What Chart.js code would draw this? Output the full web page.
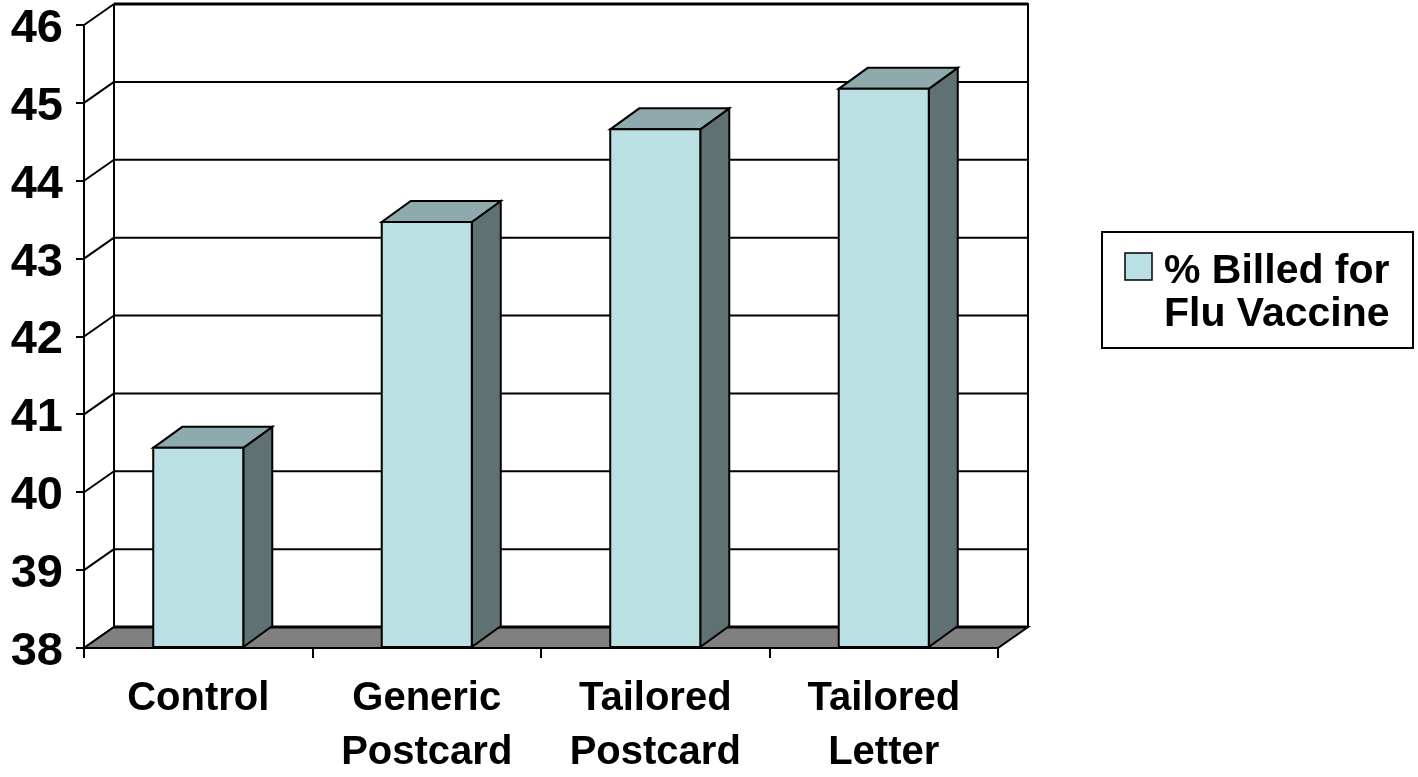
<!DOCTYPE html>
<html>
<head>
<meta charset="utf-8">
<script src="https://cdn.jsdelivr.net/npm/chart.js@4/dist/chart.umd.min.js"></script>
<style>
html,body{margin:0;padding:0;background:#fff;}
#wrap{width:1418px;height:777px;position:relative;}
</style>
</head>
<body>
<div id="wrap"><canvas id="c" width="1418" height="777"></canvas></div>
<script>
const categories = [["Control"], ["Generic", "Postcard"], ["Tailored", "Postcard"], ["Tailored", "Letter"]];
const seriesName = ["% Billed for", "Flu Vaccine"];
const billedValues = [40.57, 43.47, 44.66, 45.18];
const yTicks = [38, 39, 40, 41, 42, 43, 44, 45, 46];

const FONT = "'Liberation Sans', Arial, sans-serif";
const DX = 30, DY = -21;
const FRONT = '#BBE0E3', TOP = '#8FAAAD', SIDE = '#5F7173', FLOOR = '#808080';

function line(ctx, x1, y1, x2, y2, w) {
  ctx.beginPath(); ctx.lineWidth = w; ctx.moveTo(x1, y1); ctx.lineTo(x2, y2); ctx.stroke();
}
function poly(ctx, pts, fill, w) {
  ctx.beginPath();
  ctx.moveTo(pts[0][0], pts[0][1]);
  for (let i = 1; i < pts.length; i++) ctx.lineTo(pts[i][0], pts[i][1]);
  ctx.closePath();
  ctx.fillStyle = fill; ctx.fill();
  ctx.lineWidth = w; ctx.strokeStyle = '#000'; ctx.lineJoin = 'miter'; ctx.stroke();
}

const walls = {
  id: 'walls',
  beforeDatasetsDraw(chart) {
    const ctx = chart.ctx, a = chart.chartArea, ys = chart.scales.y;
    ctx.save();
    ctx.strokeStyle = '#000';
    const L = a.left, R = a.right;
    yTicks.forEach(v => {
      const y = ys.getPixelForValue(v);
      line(ctx, L + DX, y + DY, R + DX, y + DY, v === yTicks[yTicks.length - 1] ? 3 : 2);
      line(ctx, L, y, L + DX, y + DY, 2);
    });
    line(ctx, L + DX, a.top + DY, L + DX, a.bottom + DY, 2);
    line(ctx, R + DX, a.top + DY - 1, R + DX, a.bottom + DY, 2);
    // floor
    poly(ctx, [[L, a.bottom], [R, a.bottom], [R + DX, a.bottom + DY], [L + DX, a.bottom + DY]], FLOOR, 2);
    line(ctx, L + DX, a.bottom + DY, R + DX, a.bottom + DY, 3);
    line(ctx, L, a.top, L, a.bottom + 10, 2);
    ctx.restore();
  },
  afterDatasetsDraw(chart) {
    const ctx = chart.ctx;
    ctx.save();
    chart.getDatasetMeta(0).data.forEach(bar => {
      const p = bar.getProps(['x', 'y', 'width', 'base'], true);
      const l = p.x - p.width / 2, r = p.x + p.width / 2, t = p.y, b = p.base;
      poly(ctx, [[r, t], [r + DX - 1, t + DY], [r + DX - 1, b + DY], [r, b]], SIDE, 2);
      poly(ctx, [[l, t], [r, t], [r + DX - 1, t + DY], [l + DX - 1, t + DY]], TOP, 2);
      poly(ctx, [[l, t], [r, t], [r, b], [l, b]], FRONT, 2);
    });
    ctx.restore();
  },
  afterDraw(chart) {
    const ctx = chart.ctx;
    ctx.save();
    // legend
    ctx.lineWidth = 2; ctx.strokeStyle = '#000';
    ctx.strokeRect(1102, 232, 311, 116);
    ctx.fillStyle = FRONT;
    ctx.fillRect(1125, 253, 27, 27);
    ctx.lineWidth = 1.5;
    ctx.strokeRect(1125, 253, 27, 27);
    ctx.fillStyle = '#000';
    ctx.font = "bold 41px " + FONT;
    ctx.textAlign = 'left'; ctx.textBaseline = 'alphabetic';
    ctx.fillText(seriesName[0], 1164, 283);
    ctx.fillText(seriesName[1], 1164, 326);
    ctx.restore();
  }
};

new Chart(document.getElementById('c'), {
  type: 'bar',
  data: {
    labels: categories,
    datasets: [{
      label: seriesName.join(' '),
      data: billedValues,
      base: yTicks[0],
      backgroundColor: FRONT,
      borderColor: '#000',
      borderWidth: 0,
      categoryPercentage: 1,
      barPercentage: 0.394
    }]
  },
  options: {
    responsive: false,
    animation: false,
    layout: { padding: { top: 25, right: 420, left: 0, bottom: 0 } },
    plugins: { legend: { display: false }, tooltip: { enabled: false } },
    scales: {
      x: {
        offset: true,
        grid: { display: true, drawOnChartArea: false, offset: true, color: '#000', lineWidth: 2, tickLength: 10 },
        border: { display: false },
        ticks: { color: '#000', padding: 14, maxRotation: 0, autoSkip: false,
                 font: { family: FONT, size: 40, weight: 'bold', lineHeight: 1.35 } },
        afterFit(scale) { scale.height = 777 - 648; }
      },
      y: {
        min: 38, max: 46,
        afterBuildTicks(scale) { scale.ticks = yTicks.map(v => ({ value: v })); },
        grid: { display: true, drawOnChartArea: false, color: '#000', lineWidth: 2, tickLength: 8 },
        border: { display: true, color: '#000', width: 2 },
        ticks: { color: '#000', padding: 13, labelOffset: 4,
                 font: { family: FONT, size: 47, weight: 'bold', lineHeight: 0.5 } },
        afterFit(scale) { scale.width = 84; }
      }
    }
  },
  plugins: [walls]
});
</script>
</body>
</html>
